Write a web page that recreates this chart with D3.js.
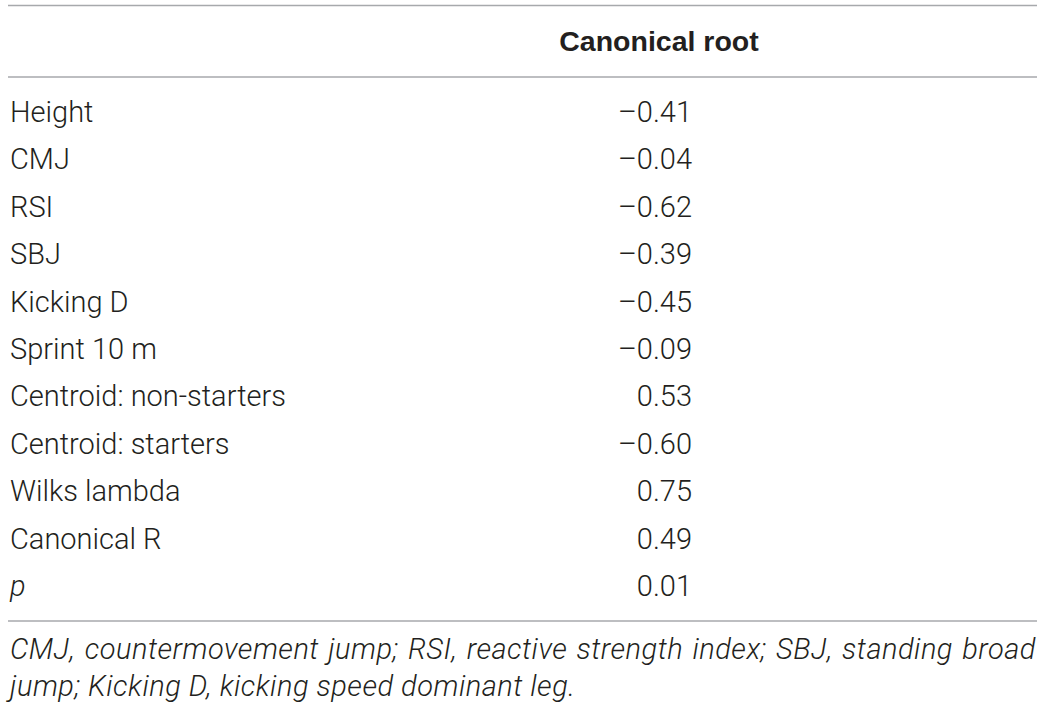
<!DOCTYPE html>
<html>
<head>
<meta charset="utf-8">
<script src="https://cdn.jsdelivr.net/npm/d3@7"></script>
<style>
  html, body { margin: 0; padding: 0; background: #fff; }
  svg { display: block; }
</style>
</head>
<body>
<svg id="chart" width="1044" height="707"></svg>
<script>
const columnHeader = "Canonical root";
const rowLabels = ["Height", "CMJ", "RSI", "SBJ", "Kicking D", "Sprint 10 m",
  "Centroid: non-starters", "Centroid: starters", "Wilks lambda", "Canonical R", "p"];
const rootValues = [-0.41, -0.04, -0.62, -0.39, -0.45, -0.09, 0.53, -0.60, 0.75, 0.49, 0.01];
const italicLabels = ["p"];
const footnoteLines = [
  "CMJ, countermovement jump; RSI, reactive strength index; SBJ, standing broad",
  "jump; Kicking D, kicking speed dominant leg."
];

const svg = d3.select("#chart");
const font = "Roboto, 'Liberation Sans', Arial, sans-serif";
const headerFont = "'Liberation Sans', Arial, sans-serif";
const textColor = "#231f20";
const ruleColor = "#a7a9ac";
const fs = 29;

const x = d3.scaleLinear().domain([0, 1]).range([8, 1037]);
const y = d3.scalePoint().domain(rowLabels).range([122, 596]);

// rules
[5.5, 77, 621].forEach(yy => {
  svg.append("line").attr("x1", x(0)).attr("x2", x(1))
    .attr("y1", yy).attr("y2", yy)
    .attr("stroke", ruleColor).attr("stroke-width", 1.5);
});

// header
svg.append("text").attr("x", 659).attr("y", 51)
  .attr("text-anchor", "middle")
  .attr("font-family", headerFont).attr("font-weight", 700).attr("font-size", 28.5)
  .attr("fill", textColor).text(columnHeader);

const fmt = v => (v < 0 ? "\u2013" : "") + d3.format(".2f")(Math.abs(v));

const rows = svg.selectAll("g.row").data(rowLabels.map((l, i) => ({label: l, value: rootValues[i]})))
  .join("g").attr("class", "row").attr("transform", d => `translate(0,${y(d.label)})`);

rows.append("text").attr("x", 10).attr("y", 0)
  .attr("font-family", font).attr("font-weight", 300).attr("font-size", fs)
  .attr("font-style", d => italicLabels.includes(d.label) ? "italic" : "normal")
  .attr("fill", textColor).text(d => d.label);

rows.append("text").attr("x", 692).attr("y", 0)
  .attr("text-anchor", "end")
  .attr("font-family", font).attr("font-weight", 300).attr("font-size", fs)
  .attr("fill", textColor).text(d => fmt(d.value));

// footnote (first line justified via word spacing)
const fy = [659, 696];
footnoteLines.forEach((t, i) => {
  const el = svg.append("text").attr("x", 10).attr("y", fy[i])
    .attr("font-family", font).attr("font-weight", 300).attr("font-style", "italic")
    .attr("font-size", fs).attr("letter-spacing", 0.5).attr("fill", textColor).text(t);
  if (i === 0) {
    const w = el.node().getComputedTextLength();
    const gaps = t.split(" ").length - 1;
    el.attr("word-spacing", Math.max(0, (1026 - w) / gaps));
  }
});
</script>
</body>
</html>
